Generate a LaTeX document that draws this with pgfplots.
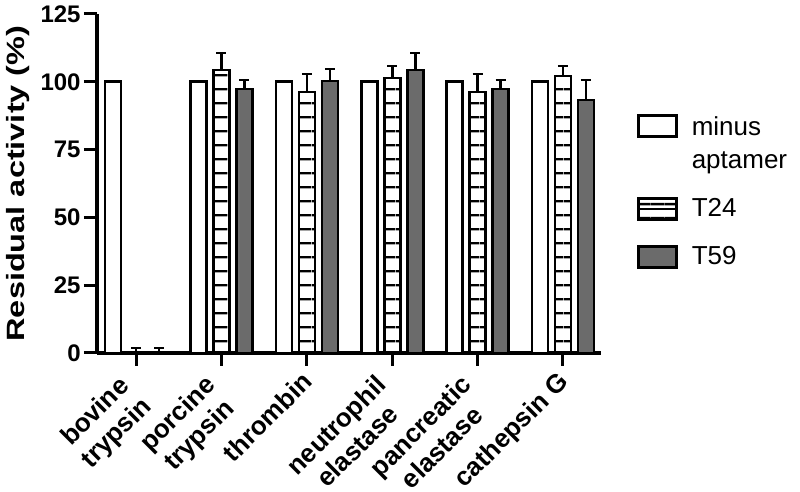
\documentclass[border=0pt]{standalone}
\usepackage{pgfplots}
\pgfplotsset{compat=1.18}
\usepackage{fontspec}
\setmainfont{Liberation Sans}
\usetikzlibrary{patterns.meta}
\definecolor{bargray}{gray}{0.42}

\begin{document}
\begin{tikzpicture}
\begin{axis}[
 scale only axis, width=252pt, height=169.5pt,
 at={(0,0)}, anchor=south west,
 xmin=-0.457, xmax=5.445, ymin=0, ymax=125,
 axis x line*=bottom, axis y line*=left,
 axis line style={line width=2pt},
 ytick={0,25,50,75,100,125},
 xtick={2,5},
 xticklabels={thrombin, cathepsin G},
 extra x ticks={0,1,3,4},
 extra x tick labels={{bovine\\trypsin}, {porcine\\trypsin}, {neutrophil\\elastase}, {pancreatic\\elastase}},
 extra x tick style={grid=none, xticklabel style={xshift=-5.13pt, yshift=3pt}},
 tick align=outside, major tick length=6.5pt,
 major tick style={line width=1.5pt, black},
 /pgf/number format/assume math mode=true,
 yticklabel style={font=\fontsize{12}{14}\selectfont\bfseries, inner sep=1.5pt},
 xticklabel style={font=\fontsize{13}{15}\selectfont\bfseries, rotate=45, anchor=north east, align=center, inner sep=0pt, xshift=-3.6pt, yshift=1.01pt},
 ylabel={\scalebox{1.3}[1]{Residual activity (\%)}},
 ylabel style={font=\fontsize{12.5}{14}\selectfont\bfseries, at={(axis description cs:-0.157,0.5)}, anchor=center},
 ybar, bar width=8pt,
 error bars/error bar style={line width=1.3pt, black},
 error bars/error mark options={line width=1.3pt, black, mark size=2.5pt, rotate=90},
 legend style={draw=none, fill=none, at={(axis description cs:1.071,0.711)}, anchor=north west, font=\fontsize{13}{16.5}\selectfont, cells={align=left}, row sep=9.5pt, column sep=5pt, inner sep=0pt},
 legend cell align=left,
]
\addplot[draw=black, line width=1.3pt, fill=white, bar shift=-11.5pt,
  legend image code/.code={\draw[fill=white, line width=1.3pt] (0pt,3.75pt) rectangle (19pt,14.25pt);}]
  coordinates {(0,100) (1,100) (2,100) (3,100) (4,100) (5,100)};
\addlegendentry{minus\\aptamer\rule[-1.5pt]{0pt}{1pt}}
\addplot[draw=black, line width=1.3pt, pattern={Lines[angle=0,distance=6.85pt,line width=1.2pt]}, pattern color=black, bar shift=0pt,
  legend image code/.code={\draw[line width=1.3pt] (0pt,-5.25pt) rectangle (19pt,5.25pt); \draw[line width=1.2pt] (0pt,0pt) -- (19pt,0pt);},
  error bars/.cd, y dir=plus, y explicit]
  coordinates {(0,0) +- (0,1.8) (1,104.4) +- (0,6.2) (2,96.2) +- (0,6.7) (3,101.4) +- (0,4.4) (4,96.2) +- (0,6.7) (5,102.1) +- (0,3.7)};
\addlegendentry{T24}
\addplot[draw=black, line width=1.3pt, fill=bargray, bar shift=11.5pt,
  legend image code/.code={\draw[fill=bargray, line width=1.3pt] (0pt,-5.25pt) rectangle (19pt,5.25pt);},
  error bars/.cd, y dir=plus, y explicit]
  coordinates {(0,0) +- (0,1.8) (1,97.3) +- (0,3.4) (2,100.3) +- (0,4.4) (3,104.4) +- (0,6.2) (4,97.3) +- (0,3.4) (5,93.3) +- (0,7.4)};
\addlegendentry{T59}
\end{axis}
\pgfresetboundingbox
\path (-48.5pt,-69.5pt) rectangle (351.5pt,176.5pt);
\end{tikzpicture}
\end{document}
